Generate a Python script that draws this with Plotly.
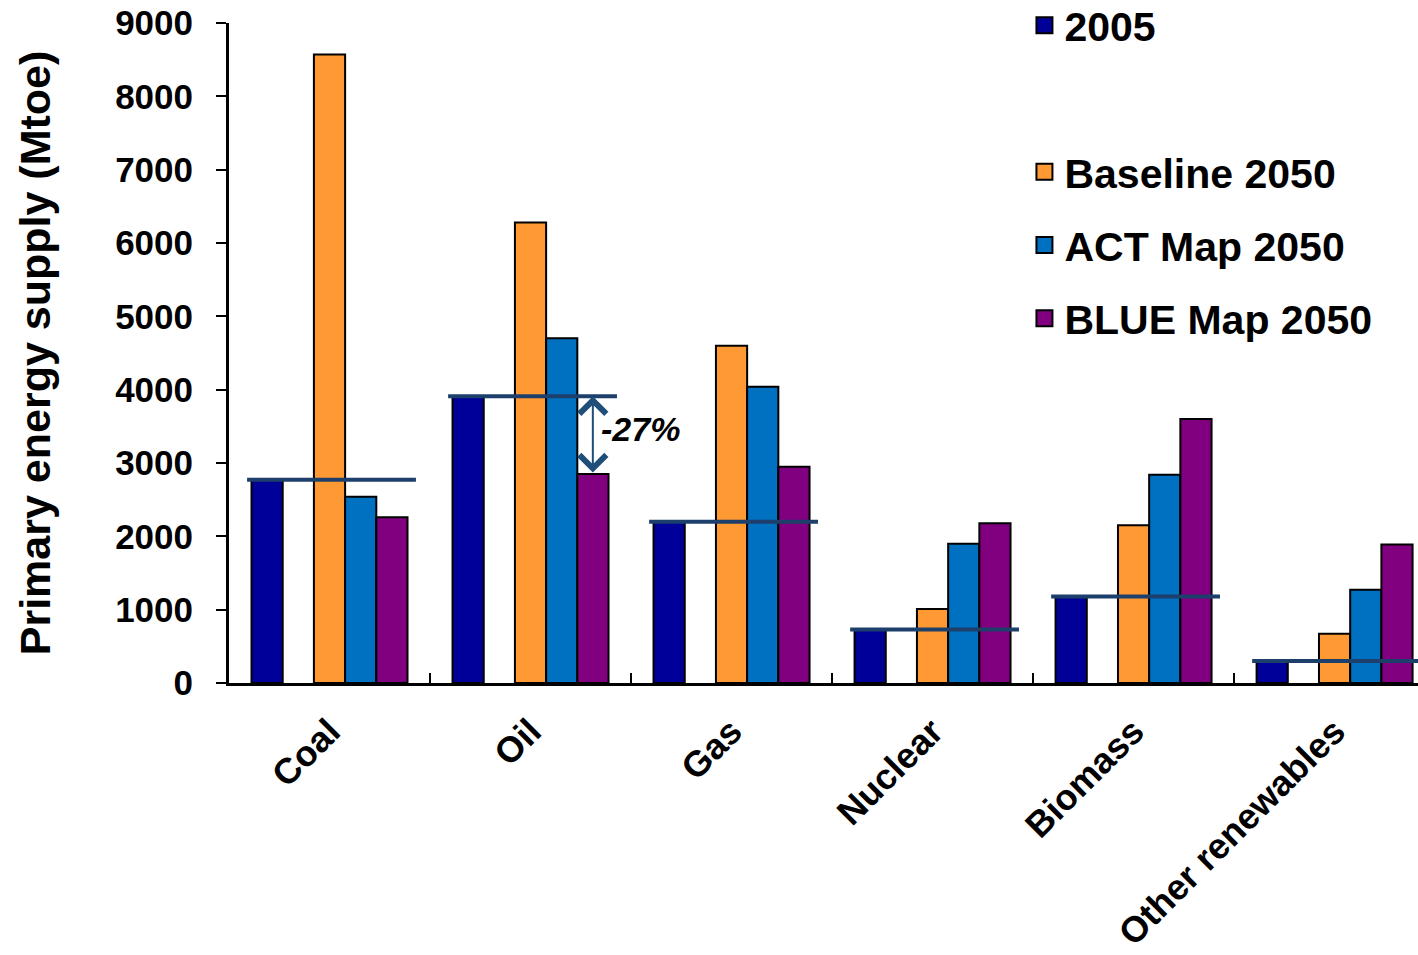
import plotly.graph_objects as go

# Primary energy supply by source (Mtoe)
categories = ["Coal", "Oil", "Gas", "Nuclear", "Biomass", "Other renewables"]
supply_2005 = [2770, 3910, 2200, 730, 1180, 300]
baseline_2050 = [8570, 6280, 4600, 1010, 2150, 670]
act_map_2050 = [2540, 4700, 4040, 1900, 2840, 1270]
blue_map_2050 = [2260, 2850, 2950, 2180, 3600, 1890]
spacer = [0, 0, 0, 0, 0, 0]
y_ticks = [0, 1000, 2000, 3000, 4000, 5000, 6000, 7000, 8000, 9000]

FONT = "Liberation Sans, Arial, sans-serif"
LINE_NAVY = "#1C3F6B"

series = [
    ("2005", supply_2005, "#000099"),
    (" ", spacer, "#FFFFFF"),
    ("Baseline 2050", baseline_2050, "#FF9933"),
    ("ACT Map 2050", act_map_2050, "#0070C0"),
    ("BLUE Map 2050", blue_map_2050, "#800080"),
]

fig = go.Figure()

for name, values, color in series:
    blank = name.strip() == ""
    fig.add_trace(go.Bar(
        x=categories, y=values, name=name, showlegend=False,
        marker=dict(color=color, line=dict(color="black", width=0 if blank else 2)),
        hoverinfo="skip" if blank else None,
    ))

# legend entries with larger square swatches
for name, values, color in series:
    blank = name.strip() == ""
    fig.add_trace(go.Scatter(
        x=[None], y=[None], mode="markers", name=name, legendgroup=name,
        marker=dict(symbol="square", size=16, color=color,
                    opacity=0 if blank else 1,
                    line=dict(color="black", width=0 if blank else 2)),
    ))

# 2005 reference level across each group
for i, v in enumerate(supply_2005):
    fig.add_shape(type="line", xref="x", yref="y",
                  x0=i - 0.41, x1=i + 0.43, y0=v, y1=v,
                  line=dict(color=LINE_NAVY, width=4))

# change in oil supply: 2005 vs BLUE Map 2050
oil = categories.index("Oil")
arrow_x = oil + 0.31
fig.add_annotation(
    x=arrow_x, y=supply_2005[oil], ax=arrow_x, ay=blue_map_2050[oil],
    xref="x", yref="y", axref="x", ayref="y", text="",
    showarrow=True, arrowside="end+start", arrowhead=4, startarrowhead=4,
    arrowsize=2.6, startarrowsize=2.6, arrowwidth=2, arrowcolor="#1F4E79",
    standoff=0, startstandoff=0,
)
pct = round((blue_map_2050[oil] - supply_2005[oil]) / supply_2005[oil] * 100)
fig.add_annotation(
    x=oil + 0.545, y=(supply_2005[oil] + blue_map_2050[oil]) / 2 + 80,
    xref="x", yref="y", text=f"<i><b>{pct}%</b></i>", showarrow=False,
    font=dict(family=FONT, size=34, color="black"),
    xanchor="center", yanchor="middle",
)

fig.update_layout(
    width=1418, height=955,
    margin=dict(l=229, r=0, t=23, b=272, autoexpand=False),
    paper_bgcolor="white", plot_bgcolor="white",
    barmode="group", bargap=0.224, bargroupgap=0,
    font=dict(family=FONT, color="black"),
    showlegend=True,
    legend=dict(
        x=0.669, xanchor="left", y=1.047, yanchor="top",
        font=dict(family=FONT, size=41, color="black", weight="bold"),
        tracegroupgap=17, bgcolor="rgba(0,0,0,0)", itemsizing="trace",
    ),
    xaxis=dict(
        range=[-0.5, 5.415], type="category",
        showline=True, linecolor="black", linewidth=3,
        ticks="inside", tickson="boundaries", ticklen=10, tickwidth=2,
        tickcolor="black", tickangle=-45,
        tickfont=dict(family=FONT, size=36, color="black", weight="bold"),
        ticklabelstandoff=10, showgrid=False, zeroline=False, automargin=False,
    ),
    yaxis=dict(
        range=[0, 9000], tickvals=y_ticks, ticktext=[str(t) for t in y_ticks],
        showline=True, linecolor="black", linewidth=3,
        ticks="outside", ticklen=10, tickwidth=2, tickcolor="black",
        tickfont=dict(family=FONT, size=35, color="black", weight="bold"),
        ticklabelstandoff=16, showgrid=False, zeroline=False, automargin=False,
        title=dict(text="Primary energy supply (Mtoe)", standoff=52,
                   font=dict(family=FONT, size=43, color="black", weight="bold")),
    ),
)

fig.write_html("out.html")
